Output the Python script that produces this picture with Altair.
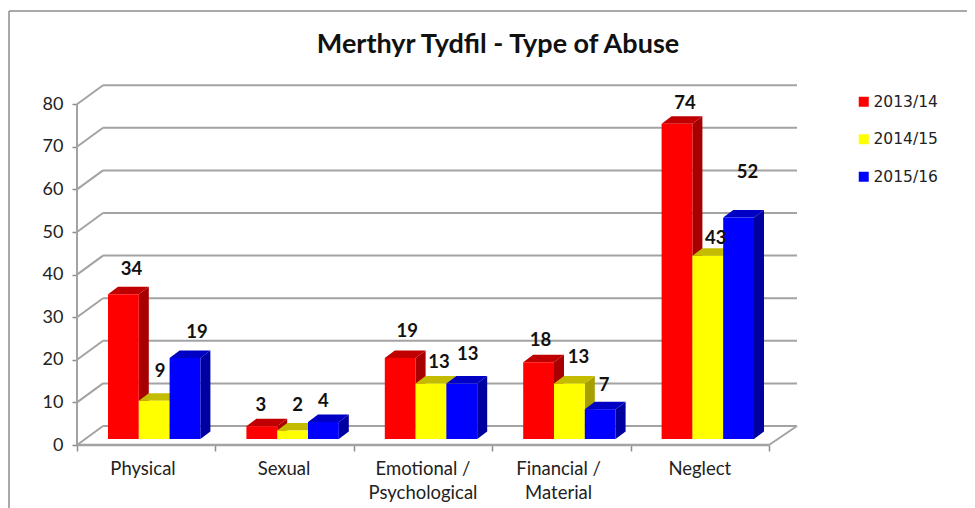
import altair as alt
import pandas as pd

CATEGORIES = ["Physical", "Sexual", "Emotional /\nPsychological", "Financial /\nMaterial", "Neglect"]
SERIES = ["2013/14", "2014/15", "2015/16"]
VALUES_2013 = [34, 3, 19, 18, 74]
VALUES_2014 = [9, 2, 13, 13, 43]
VALUES_2015 = [19, 4, 13, 7, 52]
ALL_VALUES = [VALUES_2013, VALUES_2014, VALUES_2015]
FRONT = ["#ff0000", "#ffff00", "#0000ff"]
TOP = ["#c00000", "#c4bc00", "#0000c4"]
SIDE = ["#a80000", "#a8a000", "#0000a0"]
Y_TICKS = [0, 10, 20, 30, 40, 50, 60, 70, 80]
# hand placement of the value labels relative to each bar's front top centre (px)
LABEL_DX = [[8, -1, 7, 2, 8], [6, 5, 8, 9, 8], [12, 0, 6, 4, 9]]
LABEL_DY = [[-25, -21, -27, -22, -21], [-30, -25, -22, -27, -18], [-26, -21, -30, -24, -45]]

GRID = "#a3a3a3"
PX_X = 138.4   # px per category slot
PX_Y = 4.26    # px per unit of value
W, H = 720, 360
xs = alt.Scale(domain=[0, W / PX_X], nice=False, zero=False)
ys = alt.Scale(domain=[0, H / PX_Y], nice=False, zero=False)
WALL_X, WALL_Y = 26 / PX_X, 19 / PX_Y
BAR_X, BAR_Y = 10 / PX_X, 7.5 / PX_Y
BASE = 6 / PX_Y
GAP, BW = 31 / PX_X, 30.8 / PX_X
FONT = "Lato"


def X(f="x:Q", axis=None):
    return alt.X(f, scale=xs, axis=axis, title=None)


def Y(f="y:Q", axis=None):
    return alt.Y(f, scale=ys, axis=axis, title=None, stack=None)


# frame
frame_top = alt.Chart(pd.DataFrame({"a": [0]})).mark_rule(color="#8c8c8c", strokeWidth=1.5, clip=False).encode(
    x=alt.value(-68), x2=alt.value(890), y=alt.value(-74))
frame_left = alt.Chart(pd.DataFrame({"a": [0]})).mark_rule(color="#8c8c8c", strokeWidth=1.5, clip=False).encode(
    x=alt.value(-68), y=alt.value(-74), y2=alt.value(423))

# walls
back = pd.DataFrame({"v": Y_TICKS})
back["y"] = back["v"] + WALL_Y
back["x"] = WALL_X
back["x2"] = W / PX_X
back_lines = alt.Chart(back).mark_rule(color=GRID, strokeWidth=2).encode(x=X(), x2="x2:Q", y=Y())
# carries the axes: its points are on the front edge at each tick
axes_df = pd.DataFrame({"x": [0, 1, 2, 3, 4, 5, 0, 0, 0], "y": Y_TICKS})
axes_layer = alt.Chart(axes_df).mark_point(opacity=0).encode(
    x=X(axis=alt.Axis(values=[0, 1, 2, 3, 4, 5], labels=False, domain=False, grid=False,
                      tickSize=6, tickColor="#8c8c8c", tickWidth=1.5)),
    y=Y(axis=alt.Axis(values=Y_TICKS, domain=False, grid=False, tickSize=5, tickColor="#8c8c8c", tickWidth=1.5,
                      labelFont=FONT, labelFontSize=18, labelColor="#222222", labelPadding=9)),
)
slant = pd.DataFrame([{"g": v, "x": dx, "y": v + dy} for v in Y_TICKS for dx, dy in [(0, 0), (WALL_X, WALL_Y)]])
slant_lines = alt.Chart(slant).mark_line(color=GRID, strokeWidth=2).encode(x=X(), y=Y(), detail="g:N")
floor_right = pd.DataFrame({"x": [5, W / PX_X], "y": [0, WALL_Y]})
floor_right_line = alt.Chart(floor_right).mark_line(color=GRID, strokeWidth=2).encode(x=X(), y=Y())
floor_front = alt.Chart(pd.DataFrame({"x": [0], "x2": [5], "y": [0]})).mark_rule(color=GRID, strokeWidth=2.5).encode(
    x=X(), x2="x2:Q", y=Y())
axis_line = alt.Chart(pd.DataFrame({"x": [0], "y": [0], "y2": [80]})).mark_rule(color=GRID, strokeWidth=2).encode(
    x=X(), y=Y(), y2="y2:Q")

layers = [frame_top, frame_left, axes_layer, back_lines, slant_lines, floor_right_line, floor_front, axis_line]

# bars, painted back to front within each cluster
legend = alt.Legend(orient="none", legendX=779, legendY=9, title=None, symbolType="square", symbolSize=100,
                    symbolStrokeWidth=0, labelFont="DejaVu Sans", labelFontSize=15.5, labelColor="#222222",
                    rowPadding=20.5, labelOffset=2, padding=0)
color = alt.Color("series:N", scale=alt.Scale(domain=SERIES, range=FRONT), legend=legend)

labels = []
for k, name in enumerate(SERIES):
    fronts, sides, tops = [], [], []
    for i, v in enumerate(ALL_VALUES[k]):
        xl = i + GAP + k * BW
        xr = xl + BW
        top = BASE + v
        fronts.append({"series": name, "x": xl, "x2": xr, "y": BASE, "y2": top})
        sides.append({"g": i, "x": xr, "y": BASE, "y2": top})
        sides.append({"g": i, "x": xr + BAR_X, "y": BASE + BAR_Y, "y2": top + BAR_Y})
        tops.append({"g": i, "x": xl, "y": top, "y2": top})
        tops.append({"g": i, "x": xl + BAR_X, "y": top, "y2": top + BAR_Y})
        tops.append({"g": i, "x": xr, "y": top, "y2": top + BAR_Y})
        tops.append({"g": i, "x": xr + BAR_X, "y": top + BAR_Y, "y2": top + BAR_Y})
        labels.append({"t": str(v),
                       "x": xl + BW / 2 + LABEL_DX[k][i] / PX_X,
                       "y": top - LABEL_DY[k][i] / PX_Y})
    layers.append(alt.Chart(pd.DataFrame(sides)).mark_area(color=SIDE[k]).encode(
        x=X(), y=Y(), y2="y2:Q", detail="g:N"))
    layers.append(alt.Chart(pd.DataFrame(tops)).mark_area(color=TOP[k]).encode(
        x=X(), y=Y(), y2="y2:Q", detail="g:N"))
    layers.append(alt.Chart(pd.DataFrame(fronts)).mark_rect().encode(
        x=X(), x2="x2:Q", y=Y(), y2="y2:Q", color=color))

layers.append(alt.Chart(pd.DataFrame(labels)).mark_text(
    font=FONT, fontSize=18.5, fontWeight="bold", color="#111111", baseline="middle").encode(
    x=X(), y=Y(), text="t:N"))

cat_df = pd.DataFrame({"c": CATEGORIES, "x": [0.477, 1.496, 2.50, 3.48, 4.50]})
layers.append(alt.Chart(cat_df).mark_text(
    font=FONT, fontSize=18.5, color="#222222", lineBreak="\n", baseline="top", lineHeight=23.5, clip=False).encode(
    x=X(), y=alt.value(375), text="c:N"))

chart = alt.layer(*layers).resolve_axis(x="independent", y="independent").properties(
    width=W, height=H,
    padding={"left": 69, "top": 77, "right": 170, "bottom": 63},
    autosize=alt.AutoSizeParams(type="none"),
    background="white",
    title=alt.TitleParams("Merthyr Tydfil - Type of Abuse", anchor="middle", dx=61, offset=-49,
                          font=FONT, fontSize=27, fontWeight="bold", color="#111111"),
).configure_view(stroke=None)

chart.save("out.html", embed_options={"renderer": "svg", "actions": False})
